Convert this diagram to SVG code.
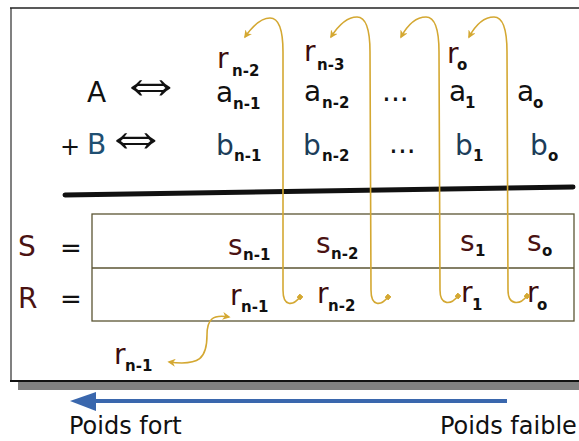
<svg xmlns="http://www.w3.org/2000/svg" width="579" height="441" viewBox="0 0 579 441">
<style>
text{font-family:"DejaVu Sans","Liberation Sans",sans-serif}
.m{font-size:28px;fill:#111}
.r{font-size:28px;fill:#3d0c0c}
.b{font-size:28px;fill:#1c3d5a}
.sub{font-size:15px;font-weight:bold;fill:#111}
.eq{font-size:66px;fill:#111;font-family:"Liberation Serif","DejaVu Serif",serif}
.lbl{font-size:24px;fill:#111}
.cur{fill:none;stroke:#d4a832;stroke-width:1.6}
</style>
<defs>
<marker id="ah" viewBox="0 0 10 10" refX="8" refY="5" markerWidth="8" markerHeight="8" markerUnits="userSpaceOnUse" orient="auto-start-reverse">
<path d="M0,0 L10,5 L0,10 L3,5 Z" fill="#d4a832"/>
</marker>
<marker id="sq" viewBox="0 0 10 10" refX="5" refY="5" markerWidth="5" markerHeight="5" markerUnits="userSpaceOnUse" orient="auto">
<rect x="0" y="0" width="10" height="10" fill="#d4a832"/>
</marker>
</defs>
<rect width="579" height="441" fill="#fff"/>
<g id="frame">
<rect x="18" y="382" width="561" height="8" fill="#808080"/>
<line x1="11" y1="8" x2="11" y2="381" stroke="#808080" stroke-width="2"/>
<line x1="10" y1="8" x2="579" y2="8" stroke="#222" stroke-width="1.5"/>
<line x1="10" y1="381" x2="579" y2="381" stroke="#111" stroke-width="2"/>
</g>
<g id="rule"><line x1="65" y1="195" x2="573" y2="187" stroke="#111" stroke-width="5" stroke-linecap="round"/></g>
<g id="table">
<rect x="92" y="214" width="482" height="107" fill="none" stroke="#5b5533" stroke-width="1.3"/>
<line x1="92" y1="268" x2="574" y2="268" stroke="#5b5533" stroke-width="1.3"/>
</g>
<g id="labels">
<g id="A"><text class="m" x="87" y="102">A</text><text class="eq" x="118" y="103">⇔</text></g>
<g id="B"><text class="m" x="60" y="155" style="font-size:24px">+</text><text class="m" x="87" y="154" style="fill:#1f4f72">B</text><text class="eq" x="103" y="156">⇔</text></g>
<g id="S"><text class="r" x="18" y="256" style="fill:#4a1212">S</text><text class="m" x="60" y="257" style="font-size:26px">=</text></g>
<g id="R"><text class="r" x="18" y="308" style="fill:#4a1212">R</text><text class="m" x="60" y="308" style="font-size:26px">=</text></g>
</g>
<g id="carries">
<g id="r_n-2_top"><text class="r" x="217" y="68">r</text><text class="sub" x="232" y="76">n-2</text></g>
<g id="r_n-3_top"><text class="r" x="304" y="61">r</text><text class="sub" x="317" y="70">n-3</text></g>
<g id="r_0_top"><text class="r" x="447" y="63">r</text><text class="sub" x="457" y="70">o</text></g>
</g>
<g id="rowA">
<g id="a_n-1"><text class="m" x="216" y="102">a</text><text class="sub" x="233" y="109">n-1</text></g>
<g id="a_n-2"><text class="m" x="304" y="101">a</text><text class="sub" x="322" y="108">n-2</text></g>
<g id="a_dots"><text class="m" x="382" y="101">...</text></g>
<g id="a_1"><text class="m" x="449" y="101">a</text><text class="sub" x="465" y="108">1</text></g>
<g id="a_0"><text class="m" x="517" y="101">a</text><text class="sub" x="533" y="108">o</text></g>
</g>
<g id="rowB">
<g id="b_n-1"><text class="b" x="216" y="155">b</text><text class="sub" x="234" y="161">n-1</text></g>
<g id="b_n-2"><text class="b" x="303" y="155">b</text><text class="sub" x="322" y="161">n-2</text></g>
<g id="b_dots"><text class="m" x="389" y="153">...</text></g>
<g id="b_1"><text class="b" x="455" y="155">b</text><text class="sub" x="473" y="161">1</text></g>
<g id="b_0"><text class="b" x="530" y="155">b</text><text class="sub" x="548" y="161">o</text></g>
</g>
<g id="rowS">
<g id="s_n-1"><text class="r" x="228" y="255" style="fill:#4a1212">s</text><text class="sub" x="243" y="260">n-1</text></g>
<g id="s_n-2"><text class="r" x="316" y="253" style="fill:#4a1212">s</text><text class="sub" x="331" y="259">n-2</text></g>
<g id="s_1"><text class="r" x="460" y="251" style="fill:#4a1212">s</text><text class="sub" x="475" y="256">1</text></g>
<g id="s_0"><text class="r" x="527" y="251" style="fill:#4a1212">s</text><text class="sub" x="542" y="256">o</text></g>
</g>
<g id="rowR">
<g id="r_n-1"><text class="r" x="230" y="305">r</text><text class="sub" x="241" y="312">n-1</text></g>
<g id="r_n-2"><text class="r" x="317" y="303">r</text><text class="sub" x="328" y="311">n-2</text></g>
<g id="r_1"><text class="r" x="461" y="302">r</text><text class="sub" x="472" y="310">1</text></g>
<g id="r_0"><text class="r" x="527" y="302">r</text><text class="sub" x="537" y="310">o</text></g>
</g>
<g id="r_n-1_out"><text class="r" x="114" y="364">r</text><text class="sub" x="125" y="371">n-1</text></g>
<g id="connectors">
<path class="cur" marker-start="url(#sq)" marker-end="url(#ah)" d="M300,297 C293,306 283,307 283,290 L283,52 C283,28 278,18 270,18 C260,18 252,27 245,37"/>
<path class="cur" marker-start="url(#sq)" marker-end="url(#ah)" d="M388,297 C381,306 371,307 371,290 L370,52 C370,28 365,17 357,17 C347,17 338,26 331,37"/>
<path class="cur" marker-start="url(#sq)" marker-end="url(#ah)" d="M458,296 C451,305 440,306 440,290 L439,52 C439,28 434,17 426,17 C416,17 407,26 401,37"/>
<path class="cur" marker-start="url(#sq)" marker-end="url(#ah)" d="M527,296 C520,305 508,306 508,290 L507,52 C507,28 502,17 494,17 C484,17 475,26 469,37"/>
<path class="cur" marker-start="url(#ah)" marker-end="url(#ah)" d="M229,317 C212,314 207,320 207,335 C207,358 200,366 169,362"/>
</g>
<g id="weight">
<line x1="507" y1="401" x2="92" y2="401" stroke="#3a67ad" stroke-width="4"/>
<polygon points="70,401 96,392 96,411" fill="#3a67ad"/>
<text class="lbl" x="69" y="434">Poids fort</text>
<text class="lbl" x="440" y="434">Poids faible</text>
</g>
</svg>
